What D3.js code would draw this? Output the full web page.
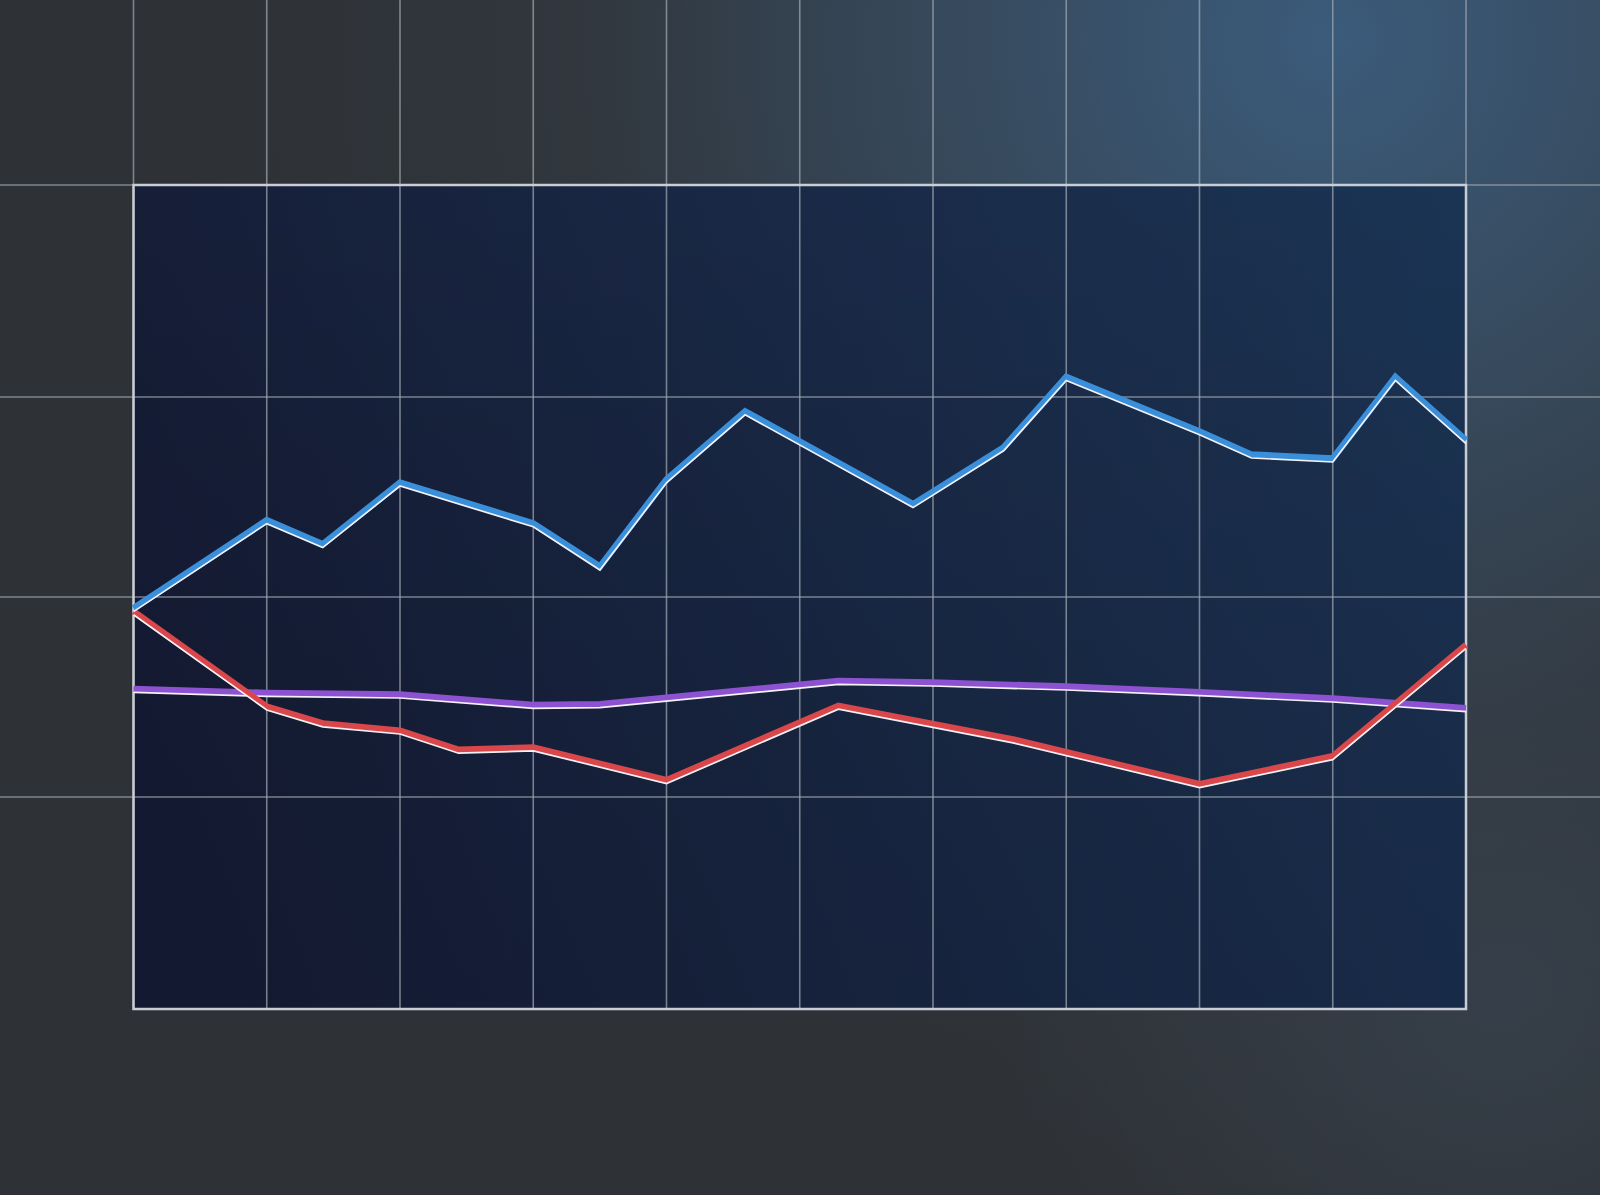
<!DOCTYPE html>
<html>
<head>
<meta charset="utf-8">
<script src="https://cdn.jsdelivr.net/npm/d3@7/dist/d3.min.js"></script>
<style>
  html, body { margin: 0; padding: 0; background: #2e3135; overflow: hidden; }
  svg { display: block; }
</style>
</head>
<body>
<svg id="chart" width="1600" height="1195"></svg>
<script>
// ---- data (x positions in grid-column units, y values in chart units) ----
const xTicks = [0, 1, 2, 3, 4, 5, 6, 7, 8, 9, 10];
const yTicks = [25, 50, 75];

const blueX = [0, 1, 1.42, 2, 3, 3.5, 4, 4.59, 5.85, 6.53, 7, 8, 8.39, 9, 9.47, 10];
const blueY = [48.6, 59.6, 56.6, 64.3, 59.2, 53.8, 64.7, 73.2, 61.6, 68.7, 77.5, 70.7, 67.8, 67.3, 77.5, 69.6];

const redX = [0, 1, 1.42, 2, 2.44, 3, 4, 5.29, 6.6, 8, 9, 10];
const redY = [48.2, 36.3, 34.2, 33.3, 30.9, 31.2, 27.1, 36.4, 32.2, 26.6, 30.1, 44.0];

const purpleX = [0, 1, 2, 3, 3.5, 4, 5.29, 6, 7, 8, 9, 10];
const purpleY = [38.5, 38.0, 37.8, 36.5, 36.6, 37.4, 39.5, 39.3, 38.8, 38.1, 37.3, 36.1];

const seriesNames = ["blue", "red", "purple"];
const seriesColors = ["#3a8fdb", "#d9474b", "#8d52d2"];

// ---- drawing ----
const W = 1600, H = 1195;
const svg = d3.select("#chart");
const defs = svg.append("defs");

const x = d3.scaleLinear().domain([0, 10]).range([133.5, 1466]);
const y = d3.scaleLinear().domain([-1.5, 101.5]).range([1009, 185]);

// page background
const bg = defs.append("radialGradient").attr("id", "bgGrad")
  .attr("gradientUnits", "userSpaceOnUse")
  .attr("cx", 1330).attr("cy", 40).attr("r", 1150);
bg.append("stop").attr("offset", "0%").attr("stop-color", "#3b5b7b");
bg.append("stop").attr("offset", "30%").attr("stop-color", "#374b5f");
bg.append("stop").attr("offset", "65%").attr("stop-color", "#31373e");
bg.append("stop").attr("offset", "100%").attr("stop-color", "#2e3135");
svg.append("rect").attr("width", W).attr("height", H).attr("fill", "url(#bgGrad)");

const bg2 = defs.append("radialGradient").attr("id", "bgGrad2")
  .attr("gradientUnits", "userSpaceOnUse")
  .attr("cx", 1500).attr("cy", 1000).attr("r", 500);
bg2.append("stop").attr("offset", "0%").attr("stop-color", "#3a4654").attr("stop-opacity", 0.6);
bg2.append("stop").attr("offset", "100%").attr("stop-color", "#3a4654").attr("stop-opacity", 0);
svg.append("rect").attr("width", W).attr("height", H).attr("fill", "url(#bgGrad2)");

// plot background
const pg = defs.append("linearGradient").attr("id", "plotGrad")
  .attr("gradientUnits", "userSpaceOnUse")
  .attr("x1", x(0)).attr("y1", y(40)).attr("x2", x(10)).attr("y2", y(100));
pg.append("stop").attr("offset", "0%").attr("stop-color", "#151b34");
pg.append("stop").attr("offset", "55%").attr("stop-color", "#192946");
pg.append("stop").attr("offset", "100%").attr("stop-color", "#1b3454");
svg.append("rect")
  .attr("x", x(0)).attr("y", y(101.5))
  .attr("width", x(10) - x(0)).attr("height", y(-1.5) - y(101.5))
  .attr("fill", "url(#plotGrad)");

const pg2 = defs.append("linearGradient").attr("id", "plotGrad2")
  .attr("x1", 0).attr("y1", 0).attr("x2", 0).attr("y2", 1);
pg2.append("stop").attr("offset", "0%").attr("stop-color", "#000").attr("stop-opacity", 0);
pg2.append("stop").attr("offset", "100%").attr("stop-color", "#0a0f1f").attr("stop-opacity", 0.15);
svg.append("rect")
  .attr("x", x(0)).attr("y", y(101.5))
  .attr("width", x(10) - x(0)).attr("height", y(-1.5) - y(101.5))
  .attr("fill", "url(#plotGrad2)");

// grid
const grid = svg.append("g");
grid.selectAll("line.v").data(xTicks).join("line").attr("class", "v")
  .attr("x1", d => x(d)).attr("x2", d => x(d))
  .attr("y1", 0).attr("y2", y(-1.5))
  .attr("stroke", "#a3aab4").attr("stroke-opacity", 0.7).attr("stroke-width", 1.6);
grid.selectAll("line.h").data(yTicks).join("line").attr("class", "h")
  .attr("x1", 0).attr("x2", W)
  .attr("y1", d => y(d)).attr("y2", d => y(d))
  .attr("stroke", "#a3aab4").attr("stroke-opacity", 0.7).attr("stroke-width", 1.6);
grid.append("line")
  .attr("x1", 0).attr("x2", W).attr("y1", y(101.5)).attr("y2", y(101.5))
  .attr("stroke", "#a3aab4").attr("stroke-opacity", 0.7).attr("stroke-width", 1.6);

// plot border
svg.append("rect")
  .attr("x", x(0)).attr("y", y(101.5))
  .attr("width", x(10) - x(0)).attr("height", y(-1.5) - y(101.5))
  .attr("fill", "none").attr("stroke", "#c9ced6").attr("stroke-width", 2.5);

// lines
const line = d3.line().x(d => x(d[0])).y(d => y(d[1])).curve(d3.curveLinear);
const series = [
  d3.zip(blueX, blueY),
  d3.zip(redX, redY),
  d3.zip(purpleX, purpleY)
];
const order = [2, 1, 0];
order.forEach(i => {
  const g = svg.append("g").attr("class", "series-" + seriesNames[i]);
  g.append("path").datum(series[i])
    .attr("d", line).attr("fill", "none")
    .attr("stroke", seriesColors[i]).attr("stroke-width", 6.5)
    .attr("stroke-linejoin", "miter").attr("stroke-linecap", "butt");
  g.append("path").datum(series[i])
    .attr("d", line).attr("fill", "none")
    .attr("transform", "translate(0,3.4)")
    .attr("stroke", "#f4f1f6").attr("stroke-width", 1.7)
    .attr("stroke-linejoin", "miter");
});
</script>
</body>
</html>
